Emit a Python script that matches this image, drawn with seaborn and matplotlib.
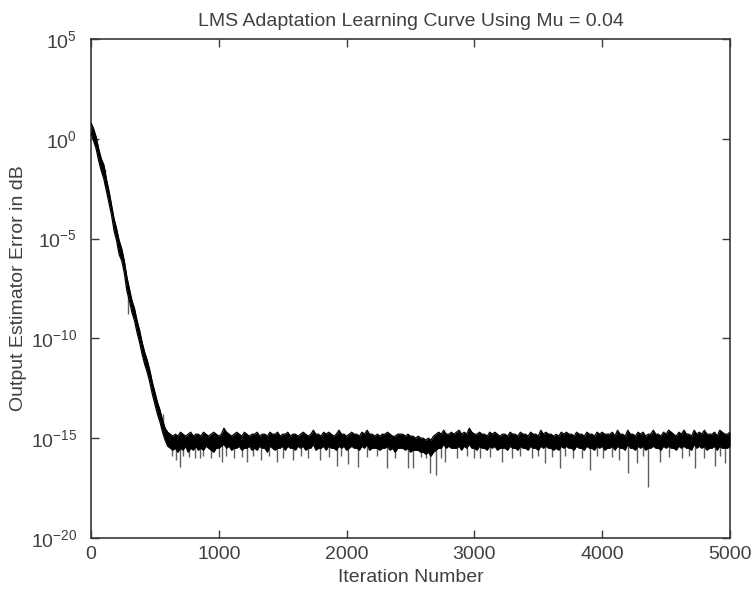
import numpy as np
import matplotlib
matplotlib.use("Agg")
import matplotlib.pyplot as plt
import seaborn as sns

# Curva de aprendizaje LMS: envolvente superior / inferior de la banda
# (exponentes log10), iteraciones cada 20 muestras: 0 .. 5000
paso = 20
log_sup = [
    0.8, 0.5, 0.1, -0.5, -1.0, -1.3, -2.0, -2.6, -3.3, -4.0,
    -4.5, -5.1, -5.5, -6.1, -6.9, -7.5, -8.1, -8.5, -9.1, -9.6,
    -10.2, -10.7, -11.1, -11.6, -12.2, -12.7, -13.2, -13.6, -14.1, -14.5,
    -14.7, -14.8,
    -14.9, -14.8, -14.9, -14.7, -14.8, -14.9, -14.8, -14.7, -14.9, -14.8,
    -14.8, -14.9, -14.7, -14.8, -14.9, -14.8, -14.7, -14.8, -14.9, -14.8,
    -14.5, -14.7, -14.8, -14.9, -14.8, -14.7, -14.8, -14.9, -14.7, -14.8,
    -14.9, -14.8, -14.8, -14.7, -14.9, -14.8, -14.8, -14.9, -14.7, -14.8,
    -14.8, -14.7, -14.9, -14.8, -14.8, -14.7, -14.9, -14.8, -14.8, -14.9,
    -14.8, -14.7, -14.8, -14.9, -14.8, -14.6, -14.8, -14.8, -14.9, -14.7,
    -14.8, -14.7, -14.8, -14.9, -14.8, -14.6, -14.8, -14.8, -14.9, -14.8,
    -14.7, -14.8, -14.8, -14.9, -14.7, -14.8, -14.6, -14.8, -14.8, -14.9,
    -14.8, -14.9, -14.8, -14.8, -14.7, -14.8, -14.9, -14.9, -14.8, -14.8,
    -14.8, -14.9, -14.8, -14.9, -14.9, -15.0, -14.9, -15.0, -15.0, -15.1,
    -15.0, -15.1, -14.9, -14.8, -14.7, -14.8, -14.6, -14.8, -14.8, -14.7,
    -14.8, -14.7, -14.6, -14.8, -14.7, -14.8, -14.5, -14.7, -14.8, -14.8,
    -14.7, -14.8, -14.8, -14.9, -14.7, -14.8, -14.7, -14.8, -14.9, -14.8,
    -14.8, -14.9, -14.7, -14.8, -14.8, -14.9, -14.7, -14.8, -14.8, -14.9,
    -14.7, -14.8, -14.8, -14.9, -14.6, -14.8, -14.7, -14.8, -14.8, -14.9,
    -14.8, -14.9, -14.7, -14.8, -14.7, -14.8, -14.8, -14.9, -14.7, -14.8,
    -14.8, -14.9, -14.7, -14.8, -14.8, -14.9, -14.7, -14.8, -14.7, -14.8,
    -14.8, -14.8, -14.7, -14.9, -14.6, -14.8, -14.8, -14.9, -14.6, -14.8,
    -14.8, -14.9, -14.7, -14.8, -14.7, -14.9, -14.8, -14.8, -14.6, -14.8,
    -14.8, -14.9, -14.7, -14.8, -14.6, -14.7, -14.8, -14.9, -14.7, -14.8,
    -14.6, -14.8, -14.8, -14.9, -14.6, -14.8, -14.7, -14.8, -14.6, -14.8,
    -14.8, -14.8, -14.7, -14.9, -14.6, -14.7, -14.8, -14.8, -14.7]
log_inf = [
    0.3, -0.1, -0.5, -1.1, -1.6, -2.0, -2.6, -3.2, -3.8, -4.6,
    -5.1, -5.8, -6.1, -6.7, -7.6, -8.1, -8.7, -9.1, -9.7, -10.2,
    -10.8, -11.3, -11.7, -12.2, -12.8, -13.3, -13.8, -14.2, -14.7, -15.1,
    -15.4, -15.5,
    -15.6, -15.5, -15.7, -15.5, -15.6, -15.4, -15.7, -15.5, -15.6, -15.4,
    -15.6, -15.5, -15.6, -15.4, -15.5, -15.6, -15.7, -15.5, -15.5, -15.4,
    -15.3, -15.5, -15.4, -15.6, -15.5, -15.5, -15.4, -15.6, -15.5, -15.5,
    -15.4, -15.6, -15.5, -15.6, -15.4, -15.5, -15.5, -15.7, -15.4, -15.5,
    -15.6, -15.5, -15.5, -15.4, -15.6, -15.4, -15.5, -15.5, -15.6, -15.4,
    -15.5, -15.4, -15.6, -15.5, -15.5, -15.3, -15.6, -15.5, -15.5, -15.4,
    -15.6, -15.4, -15.5, -15.5, -15.6, -15.4, -15.5, -15.4, -15.6, -15.5,
    -15.4, -15.5, -15.5, -15.6, -15.4, -15.5, -15.3, -15.6, -15.5, -15.5,
    -15.5, -15.6, -15.5, -15.5, -15.4, -15.6, -15.5, -15.7, -15.5, -15.5,
    -15.5, -15.6, -15.5, -15.7, -15.6, -15.6, -15.6, -15.7, -15.7, -15.8,
    -15.7, -15.9, -15.7, -15.6, -15.5, -15.5, -15.3, -15.5, -15.4, -15.5,
    -15.5, -15.5, -15.4, -15.6, -15.4, -15.5, -15.3, -15.5, -15.5, -15.6,
    -15.4, -15.5, -15.5, -15.6, -15.4, -15.5, -15.4, -15.6, -15.5, -15.5,
    -15.5, -15.6, -15.4, -15.5, -15.5, -15.6, -15.4, -15.5, -15.5, -15.6,
    -15.4, -15.5, -15.5, -15.6, -15.4, -15.5, -15.4, -15.5, -15.5, -15.6,
    -15.5, -15.6, -15.4, -15.5, -15.4, -15.5, -15.5, -15.6, -15.4, -15.5,
    -15.5, -15.6, -15.4, -15.5, -15.5, -15.6, -15.4, -15.5, -15.4, -15.6,
    -15.5, -15.5, -15.4, -15.6, -15.4, -15.5, -15.5, -15.6, -15.3, -15.5,
    -15.5, -15.6, -15.4, -15.5, -15.4, -15.6, -15.5, -15.5, -15.4, -15.5,
    -15.5, -15.6, -15.4, -15.5, -15.4, -15.5, -15.5, -15.6, -15.4, -15.5,
    -15.4, -15.5, -15.5, -15.6, -15.3, -15.5, -15.4, -15.5, -15.4, -15.6,
    -15.5, -15.5, -15.4, -15.6, -15.4, -15.5, -15.5, -15.5, -15.4]

# picos grises hacia abajo (iteracion, exponente superior, exponente inferior)
pico_iter = [110, 290, 560, 632, 665, 697, 720, 770, 810, 853, 880, 940, 1000,
             1025, 1060, 1120, 1180, 1220, 1270, 1330, 1390, 1455, 1500, 1580,
             1640, 1700, 1790, 1860, 1925, 1960, 2010, 2090, 2160, 2240, 2316,
             2380, 2480, 2520, 2580, 2620, 2653, 2700, 2740, 2770, 2864, 2940,
             3000, 3044, 3120, 3216, 3294, 3360, 3450, 3500, 3552, 3610, 3670,
             3710, 3772, 3840, 3905, 3960, 4007, 4080, 4130, 4202, 4275, 4320,
             4358, 4452, 4520, 4624, 4680, 4726, 4800, 4883, 4920, 4961]
pico_sup = [-1.5, -7.6, -13.8] + [-15.3] * 75
pico_inf = [-2.3, -8.8, -14.6, -15.9, -16.1, -16.45, -15.9, -15.95, -16.0, -16.0,
            -15.9, -16.0, -15.95, -16.2, -15.9, -16.0, -15.95, -16.2, -15.9, -16.1,
            -15.9, -16.2, -16.0, -16.1, -15.9, -16.0, -16.1, -15.95, -16.4, -15.9,
            -16.3, -16.45, -15.95, -15.9, -16.5, -16.0, -16.5, -16.5, -15.95, -16.0,
            -16.75, -16.85, -16.0, -16.2, -16.0, -15.9, -16.0, -16.0, -15.95, -16.2,
            -16.0, -15.9, -16.0, -15.9, -16.25, -15.95, -16.5, -15.9, -16.0, -16.0,
            -16.6, -15.9, -16.0, -15.95, -16.1, -16.75, -16.25, -15.9, -17.45, -16.2,
            -15.95, -16.0, -15.9, -16.5, -16.0, -16.4, -15.9, -16.25]

iteraciones = np.arange(len(log_sup)) * paso
err_sup = 10.0 ** np.array(log_sup)
err_inf = 10.0 ** np.array(log_inf)

sns.set_style("ticks")
plt.rcParams['font.family'] = ['Liberation Sans', 'DejaVu Sans']
plt.rcParams['mathtext.default'] = 'regular'
plt.rcParams['axes.unicode_minus'] = False
gris = '#3a3a3a'
texto = '#404040'
fs = 14

fig = plt.figure(figsize=(7.51, 5.89), dpi=100)
ax = fig.add_axes([0.1212, 0.0866, 0.8508, 0.8472])
ax.set_yscale('log')

ax.vlines(pico_iter, 10.0 ** np.array(pico_inf), 10.0 ** np.array(pico_sup),
          color='#5f5f5f', lw=1.0, zorder=2)
ax.fill_between(iteraciones, err_inf, err_sup, color='black', lw=0, zorder=3)
sns.lineplot(x=iteraciones, y=err_sup, ax=ax, color='black', lw=0.9, zorder=3)
sns.lineplot(x=iteraciones, y=err_inf, ax=ax, color='black', lw=0.9, zorder=3)

ax.set_xlim(0, 5000)
ax.set_ylim(1e-20, 1e5)
ax.set_xticks([0, 1000, 2000, 3000, 4000, 5000])
ax.set_yticks([1e-20, 1e-15, 1e-10, 1e-5, 1e0, 1e5])
ax.minorticks_off()
ax.tick_params(direction='in', length=6, width=1, colors=gris, labelsize=fs,
               top=True, right=True, labelcolor=texto)
ax.tick_params(axis='x', pad=6)
ax.tick_params(axis='y', pad=10)
for s in ax.spines.values():
    s.set_color(gris)
    s.set_linewidth(1.2)

ax.set_title('LMS Adaptation Learning Curve Using Mu = 0.04', fontsize=fs,
             color=texto, pad=9)
ax.set_xlabel('Iteration Number', fontsize=fs, color=texto, labelpad=4)
ax.set_ylabel('Output Estimator Error in dB', fontsize=fs, color=texto)
ax.yaxis.set_label_coords(-0.1, 0.5)

fig.savefig('out.png', dpi=100)
